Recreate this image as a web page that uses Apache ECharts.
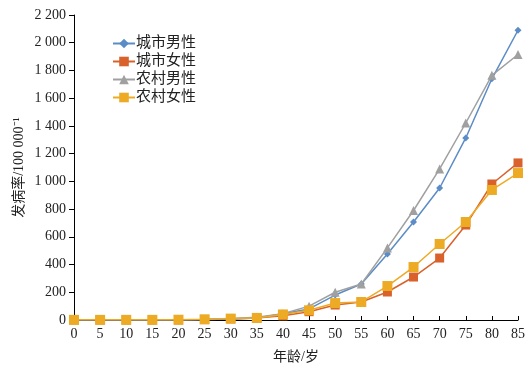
<!DOCTYPE html>
<html><head><meta charset="utf-8">
<script src="https://cdn.jsdelivr.net/npm/echarts@6/dist/echarts.min.js"></script>
<style>html,body{margin:0;padding:0;background:#fff}#c{width:532px;height:378px}</style>
</head><body><div id="c"></div>
<script>
const ages = [0,5,10,15,20,25,30,35,40,45,50,55,60,65,70,75,80,85];
const urbanMale   = [1,1,1,1,1,3,8,15,45,80,180,260,476,707,952,1313,1740,2090];
const urbanFemale = [1,1,1,1,1,3,8,14,30,60,108,130,202,310,447,685,981,1133];
const ruralMale   = [1,1,1,1,1,4,10,20,45,100,200,260,520,790,1090,1421,1765,1915];
const ruralFemale = [1,1,1,1,2,5,10,15,40,70,122,130,245,382,548,707,938,1060];
const seriesNames = ['城市男性','城市女性','农村男性','农村女性'];
const yTicks = {min:0, max:2200, interval:200};
const xTicks = {min:0, max:85, interval:5};

const font = '"Liberation Serif","Noto Sans CJK SC",serif';
const cols = ['#5B8CC6','#D9612B','#A0A0A0','#EDAA25'];
const symbols = ['diamond','rect','triangle','rect'];
const sizes = [7,9,9,10];
const datas = [urbanMale, urbanFemale, ruralMale, ruralFemale];

function fmt(v){ return String(v).replace(/\B(?=(\d{3})+(?!\d))/g,' '); }

const chart = echarts.init(document.getElementById('c'));
chart.setOption({
  animation:false,
  textStyle:{fontFamily:font},
  grid:{left:74, right:14, top:15, bottom:58, containLabel:false, outerBoundsMode:'none'},
  legend:{
    orient:'vertical', left:107, top:31, itemWidth:22, itemHeight:12, itemGap:3,
    textStyle:{fontFamily:font, fontSize:15, color:'#222', padding:[0,0,0,-4]},
    data: seriesNames
  },
  xAxis:{
    type:'value', min:xTicks.min, max:xTicks.max, interval:xTicks.interval,
    name:'年龄/岁', nameLocation:'middle', nameGap:30, nameMoveOverlap:false,
    nameTextStyle:{fontFamily:font, fontSize:14, color:'#222'},
    axisLine:{show:true, onZero:false, lineStyle:{color:'#000', width:1}},
    axisTick:{show:true, inside:true, length:4, lineStyle:{color:'#000'}},
    axisLabel:{fontFamily:font, fontSize:14, color:'#222', margin:7},
    splitLine:{show:false}
  },
  yAxis:{
    type:'value', min:yTicks.min, max:yTicks.max, interval:yTicks.interval,
    name:'发病率/100 000\u207B\u00B9', nameLocation:'middle', nameGap:48, nameMoveOverlap:false,
    nameTextStyle:{fontFamily:font, fontSize:14, color:'#222'},
    axisLine:{show:true, lineStyle:{color:'#000', width:1}},
    axisTick:{show:true, inside:false, length:5, lineStyle:{color:'#000'}},
    axisLabel:{fontFamily:font, fontSize:14, color:'#222', margin:8, formatter:fmt},
    splitLine:{show:false}
  },
  series: seriesNames.map((n,i)=>({
    name:n, type:'line',
    data: ages.map((a,j)=>[a, datas[i][j]]),
    symbol: symbols[i], symbolSize: sizes[i], showAllSymbol:true,
    itemStyle:{color:cols[i]},
    lineStyle:{color:cols[i], width:1.5},
    z: [3,2,4,5][i]
  }))
});
</script></body></html>
